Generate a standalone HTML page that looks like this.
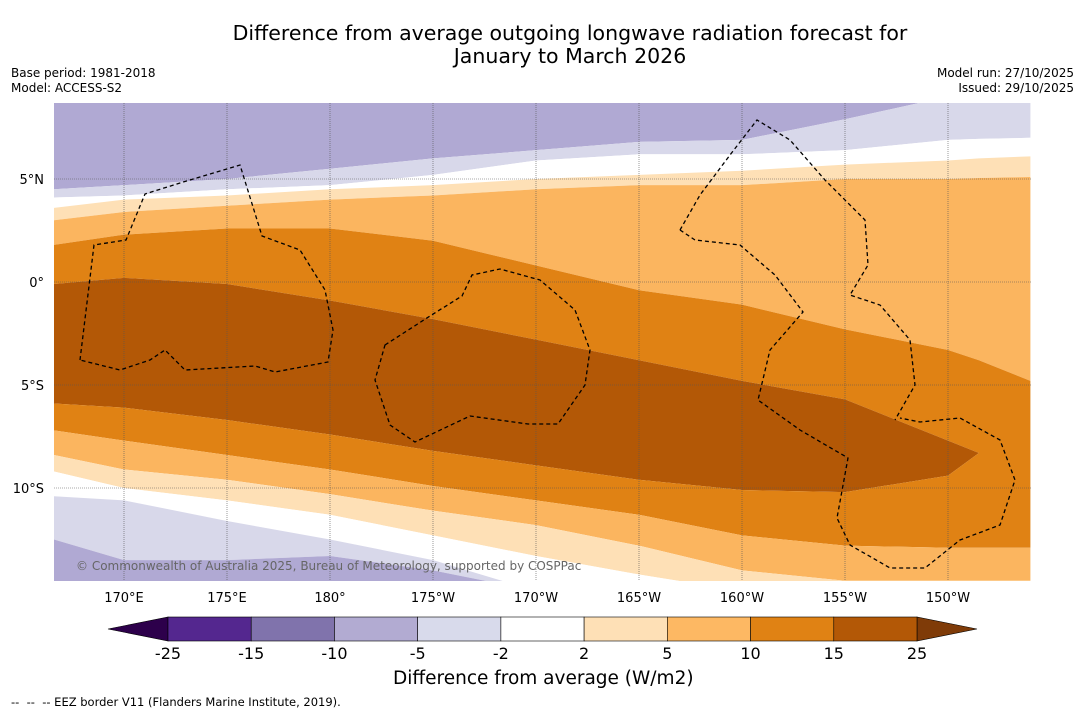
<!DOCTYPE html>
<html><head><meta charset="utf-8"><style>
body{margin:0;background:#fff;font-family:"DejaVu Sans","Liberation Sans",sans-serif;}
#wrap{position:relative;width:1085px;height:713px;overflow:hidden;background:#fff}
.t{position:absolute;white-space:nowrap;color:#000}
</style></head><body>
<div id="wrap">
<div class="t" style="left:0;width:1140px;top:22px;text-align:center;font-size:20.5px;line-height:23px">Difference from average outgoing longwave radiation forecast for<br>January to March 2026</div>
<div class="t" style="left:11px;top:66px;font-size:12px;line-height:15px">Base period: 1981-2018<br>Model: ACCESS-S2</div>
<div class="t" style="right:11px;top:66px;font-size:12px;line-height:15px;text-align:right">Model run: 27/10/2025<br>Issued: 29/10/2025</div>
<svg id="svg" width="1085" height="713" style="position:absolute;left:0;top:0"></svg>
<div class="t" style="left:393px;top:668px;font-size:18.5px">Difference from average (W/m2)</div>
<div class="t" style="left:11px;top:695px;font-size:11.5px">-- &nbsp;-- &nbsp;-- EEZ border V11 (Flanders Marine Institute, 2019).</div>
</div>
<script>
const lons=[166.6,170,175,180,185,190,195,200,205,210,211.5,214];
const B1=[4.5,4.7,5.0,5.5,6.0,6.4,6.8,6.9,7.9,9,9,9];
const B2=[4.1,4.2,4.5,4.7,5.2,5.9,6.2,6.2,6.4,6.9,6.95,7.0];
const B3=[3.6,4.0,4.2,4.5,4.7,5.0,5.2,5.4,5.7,5.9,6.0,6.1];
const B4=[3.0,3.4,3.7,4.0,4.2,4.5,4.7,4.7,5.0,5.0,5.05,5.1];
const B5=[1.8,2.3,2.6,2.6,2.0,0.8,-0.4,-1.1,-2.3,-3.3,-3.8,-4.8];
const B6=[-0.1,0.2,-0.1,-0.9,-1.8,-2.8,-3.8,-4.8,-5.7,-7.7,-8.3,-8.3];
const B7=[-5.9,-6.1,-6.7,-7.4,-8.2,-8.9,-9.6,-10.1,-10.2,-9.4,-8.3,-8.3];
const B8=[-7.2,-7.7,-8.4,-9.1,-9.9,-10.6,-11.3,-12.3,-12.8,-12.9,-12.9,-12.9];
const B9=[-8.4,-9.1,-9.6,-10.3,-11.1,-11.8,-12.8,-14,-14.5,-14.5,-14.5,-14.5];
const B10=[-9.2,-10,-10.6,-11.3,-12.3,-13.3,-14.2,-15,-15,-15,-15,-15];
const B11=[-10.4,-10.6,-11.6,-12.5,-13.5,-15,-15,-15,-15,-15,-15,-15];
const B12=[-12.5,-13.5,-13.5,-13.3,-14,-15,-15,-15,-15,-15,-15,-15];
const levels=['-25','-15','-10','-5','-2','2','5','10','15','25'];
const binColors=['#54278f','#8073ac','#b2abd2','#d8daeb','#ffffff','#fee0b6','#fdb863','#e08214','#b35806'];
const xTickVals=[170,175,180,185,190,195,200,205,210];
const xTickLabels=['170°E','175°E','180°','175°W','170°W','165°W','160°W','155°W','150°W'];
const yTickVals=[5,0,-5,-10];
const yTickLabels=['5°N','0°','5°S','10°S'];

const NS='http://www.w3.org/2000/svg';
const svg=document.getElementById('svg');
const L=54,R=1031,T=103,Bt=581;
const FF='DejaVu Sans, Liberation Sans, sans-serif';
const xS=lon=>124+(lon-170)*20.6;
const yS=lat=>282-lat*20.6;
function mk(tag,attrs,parent){const e=document.createElementNS(NS,tag);for(const k in attrs)e.setAttribute(k,attrs[k]);(parent||svg).appendChild(e);return e;}
const defs=mk('defs',{});
const cp=mk('clipPath',{id:'mc'},defs);mk('rect',{x:L,y:T,width:R-L,height:Bt-T},cp);
const g=mk('g',{'clip-path':'url(#mc)'});


const top9=lons.map(()=>9.5), bot=lons.map(()=>-16);
const bounds=[top9,B1,B2,B3,B4,B5,B6,B7,B8,B9,B10,B11,B12,bot];
const bandCol=['#b0a9d3','#d8d8ea','#ffffff','#fee0b6','#fbb55f','#e08214','#b35806','#e08214','#fbb55f','#fee0b6','#ffffff','#d8d8ea','#b0a9d3'];
for(let i=0;i<bandCol.length;i++){
  const a=bounds[i],b=bounds[i+1];
  let pts=lons.map((ln,j)=>xS(ln)+','+yS(a[j]));
  for(let j=lons.length-1;j>=0;j--)pts.push(xS(lons[j])+','+yS(b[j]));
  const p=mk('polygon',{points:pts.join(' '),fill:bandCol[i]},g);
  
  
}
xTickVals.forEach((v,i)=>{
  const l=mk('line',{x1:xS(v),x2:xS(v),y1:T,y2:Bt,stroke:'#555','stroke-width':0.6,'stroke-dasharray':'1,1'},g);
  
  const t=mk('text',{x:xS(v),y:602,'font-size':13,'text-anchor':'middle','font-family':FF});
  t.textContent=xTickLabels[i];
  
});
yTickVals.forEach((v,i)=>{
  const l=mk('line',{x1:L,x2:R,y1:yS(v),y2:yS(v),stroke:'#555','stroke-width':0.6,'stroke-dasharray':'1,1'},g);
  
  const t=mk('text',{x:44,y:yS(v)+5,'font-size':13,'text-anchor':'end','font-family':FF});
  t.textContent=yTickLabels[i];
  
});
const eez=[
 'M80,360 L94,245 L126,240 L145,194 L180,183 L240,165 L262,236 L300,250 L325,290 L333,330 L328,362 L275,372 L255,366 L185,370 L165,350 L150,360 L120,370 L80,360',
 'M385,345 L430,316 L462,296 L472,275 L500,269 L540,280 L575,310 L590,350 L585,385 L558,424 L528,424 L470,416 L415,442 L390,425 L375,380 Z',
 'M680,230 L700,195 L730,155 L757,120 L790,140 L825,180 L865,220 L868,265 L850,295 L880,305 L910,340 L915,385 L895,420',
 'M680,230 L695,240 L740,245 L775,275 L803,312 L770,350 L758,400 L800,430 L848,458 L837,518 L850,545 L890,568 L925,568 L960,540 L1000,525 L1015,480 L1000,440 L960,418 L920,422 L900,418',
];
eez.forEach(d=>{const p=mk('path',{d:d,fill:'none',stroke:'#000','stroke-width':1.3,'stroke-dasharray':'4,3'},g);
});
const cr=mk('text',{x:76,y:570,'font-size':12,fill:'#666','font-family':FF},g);
cr.textContent='© Commonwealth of Australia 2025, Bureau of Meteorology, supported by COSPPac';

const cbL=168,cbW=749/9,cbT=617,cbH=24;
const la=mk('polygon',{points:`108,629 ${cbL},${cbT} ${cbL},${cbT+cbH}`,fill:'#2d004b',stroke:'#000','stroke-width':0.6});

const ra=mk('polygon',{points:`977,629 917,${cbT} 917,${cbT+cbH}`,fill:'#7f3b08',stroke:'#000','stroke-width':0.6});

binColors.forEach((c,i)=>{const r=mk('rect',{x:cbL+i*cbW,y:cbT,width:cbW,height:cbH,fill:c,stroke:'#000','stroke-width':0.6});
});
levels.forEach((lv,i)=>{const t=mk('text',{x:cbL+i*cbW,y:659,'font-size':16,'text-anchor':'middle','font-family':FF});
t.textContent=lv;});
</script>
</body></html>
